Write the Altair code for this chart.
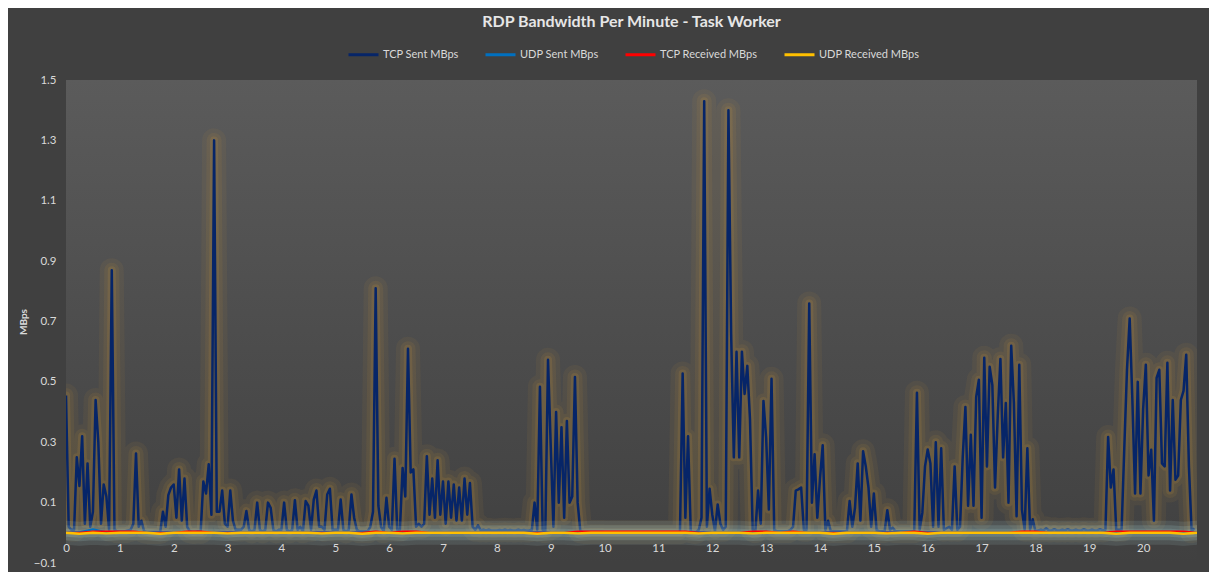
import altair as alt
import pandas as pd

# -----------------------------
# DATA
# -----------------------------
SERIES = ["TCP Sent MBps", "UDP Sent MBps", "TCP Received MBps", "UDP Received MBps"]
COLORS = ["#062568", "#0070C0", "#FF0000", "#FFC000"]
X_TICKS = list(range(0, 21))
Y_TICKS = [-0.1, 0.1, 0.3, 0.5, 0.7, 0.9, 1.1, 1.3, 1.5]

# TCP sent, one value every 0.05 minute (20 per minute)
tcp_sent = [
    0.455, 0.02, 0.01, 0.01, 0.25, 0.155, 0.32, 0.03, 0.23, 0.02, 0.07, 0.44, 0.30, 0.03, 0.16, 0.12, 0.01, 0.87, 0.01, 0.005,  # 0
    0.005, 0.005, 0.005, 0.008, 0.01, 0.03, 0.263, 0.02, 0.04, 0.005, 0.003, 0.003, 0.003, 0.003, 0.003, 0.003, 0.07, 0.02, 0.125, 0.15,  # 1
    0.16, 0.05, 0.21, 0.04, 0.18, 0.02, 0.005, 0.003, 0.003, 0.005, 0.003, 0.17, 0.13, 0.227, 0.06, 1.30, 0.07, 0.07, 0.14, 0.03,  # 2
    0.02, 0.14, 0.04, 0.01, 0.01, 0.01, 0.02, 0.072, 0.01, 0.005, 0.01, 0.10, 0.01, 0.005, 0.01, 0.10, 0.083, 0.01, 0.005, 0.01,  # 3
    0.01, 0.10, 0.01, 0.005, 0.01, 0.108, 0.01, 0.02, 0.005, 0.105, 0.09, 0.01, 0.11, 0.14, 0.02, 0.02, 0.01, 0.127, 0.146, 0.01,  # 4
    0.01, 0.01, 0.11, 0.01, 0.005, 0.01, 0.127, 0.05, 0.01, 0.005, 0.005, 0.005, 0.005, 0.02, 0.07, 0.81, 0.09, 0.02, 0.005, 0.116,  # 5
    0.02, 0.01, 0.245, 0.01, 0.01, 0.215, 0.12, 0.61, 0.20, 0.21, 0.02, 0.03, 0.02, 0.03, 0.254, 0.06, 0.18, 0.05, 0.24, 0.06,  # 6
    0.17, 0.03, 0.17, 0.05, 0.16, 0.04, 0.15, 0.04, 0.18, 0.06, 0.165, 0.02, 0.01, 0.025, 0.008, 0.01, 0.008, 0.01, 0.008, 0.008,  # 7
    0.008, 0.009, 0.008, 0.01, 0.008, 0.009, 0.008, 0.008, 0.01, 0.008, 0.009, 0.008, 0.008, 0.01, 0.10, 0.01, 0.484, 0.01, 0.005, 0.573,  # 8
    0.29, 0.02, 0.40, 0.10, 0.35, 0.05, 0.37, 0.10, 0.12, 0.516, 0.10, 0.005, 0.003, 0.003, 0.003, 0.003, 0.003, 0.003, 0.003, 0.003,  # 9
    0.002, 0.002, 0.002, 0.002, 0.002, 0.002, 0.002, 0.002, 0.002, 0.002, 0.002, 0.002, 0.002, 0.002, 0.002, 0.002, 0.002, 0.002, 0.002, 0.002,  # 10
    0.002, 0.002, 0.002, 0.002, 0.002, 0.002, 0.002, 0.002, 0.002, 0.528, 0.05, 0.32, 0.005, 0.003, 0.003, 0.01, 0.05, 1.43, 0.02, 0.146,  # 11
    0.06, 0.005, 0.094, 0.03, 0.01, 0.02, 1.40, 0.66, 0.25, 0.60, 0.25, 0.60, 0.46, 0.553, 0.376, 0.01, 0.005, 0.14, 0.03, 0.437,  # 12
    0.315, 0.077, 0.51, 0.01, 0.005, 0.005, 0.005, 0.005, 0.005, 0.01, 0.02, 0.14, 0.144, 0.15, 0.01, 0.01, 0.76, 0.10, 0.26, 0.05,  # 13
    0.18, 0.29, 0.01, 0.04, 0.005, 0.005, 0.005, 0.005, 0.005, 0.005, 0.005, 0.105, 0.02, 0.083, 0.23, 0.04, 0.27, 0.22, 0.15, 0.02,  # 14
    0.13, 0.01, 0.005, 0.005, 0.005, 0.075, 0.01, 0.017, 0.005, 0.005, 0.005, 0.005, 0.005, 0.005, 0.005, 0.005, 0.464, 0.01, 0.066, 0.22,  # 15
    0.276, 0.23, 0.02, 0.30, 0.02, 0.28, 0.01, 0.015, 0.02, 0.01, 0.22, 0.01, 0.02, 0.25, 0.417, 0.09, 0.325, 0.09, 0.45, 0.507,  # 16
    0.05, 0.58, 0.22, 0.55, 0.49, 0.15, 0.386, 0.576, 0.25, 0.43, 0.10, 0.62, 0.43, 0.055, 0.557, 0.076, 0.01, 0.28, 0.01, 0.045,  # 17
    0.005, 0.008, 0.01, 0.008, 0.015, 0.008, 0.008, 0.012, 0.008, 0.008, 0.01, 0.008, 0.012, 0.008, 0.008, 0.01, 0.008, 0.008, 0.012, 0.008,  # 18
    0.008, 0.01, 0.008, 0.008, 0.012, 0.008, 0.01, 0.317, 0.15, 0.21, 0.01, 0.01, 0.01, 0.28, 0.54, 0.71, 0.44, 0.13, 0.50, 0.13,  # 19
    0.41, 0.557, 0.19, 0.275, 0.04, 0.513, 0.54, 0.23, 0.22, 0.563, 0.14, 0.44, 0.176, 0.19, 0.44, 0.47, 0.59, 0.22, 0.005, 0.015,  # 20
]

# the three near-zero series, one value every 0.25 minute
udp_sent = [
    0.002, 0.002, 0.012, 0.002, 0.002, 0.002, 0.002, 0.002, 0.002, 0.002,
    0.002, 0.002, 0.002, 0.002, 0.002, 0.002, 0.002, 0.002, 0.002, 0.002,
    0.002, 0.002, 0.002, 0.002, 0.002, 0.002, 0.002, 0.002, 0.002, 0.002,
    0.002, 0.002, 0.002, 0.002, 0.002, 0.002, 0.002, 0.002, 0.002, 0.002,
    0.002, 0.002, 0.002, 0.002, 0.002, 0.002, 0.002, 0.002, 0.002, 0.002,
    0.002, 0.002, 0.002, 0.002, 0.002, 0.002, 0.002, 0.002, 0.002, 0.002,
    0.002, 0.002, 0.002, 0.002, 0.002, 0.002, 0.002, 0.002, 0.002, 0.002,
    0.002, 0.002, 0.002, 0.002, 0.002, 0.002, 0.002, 0.002, 0.002, 0.002,
    0.002, 0.002, 0.002, 0.002, 0.002,
]
tcp_received = [
    0.001, 0.001, 0.005, 0.005, 0.005, 0.005, 0.001, 0.001, 0.001, 0.005,
    0.005, 0.001, 0.001, 0.001, 0.001, 0.001, 0.001, 0.001, 0.001, 0.001,
    0.001, 0.001, 0.001, 0.005, 0.001, 0.005, 0.005, 0.001, 0.001, 0.001,
    0.001, 0.001, 0.001, 0.001, 0.001, 0.001, 0.001, 0.001, 0.005, 0.005,
    0.005, 0.005, 0.005, 0.005, 0.005, 0.005, 0.005, 0.001, 0.001, 0.001,
    0.001, 0.005, 0.005, 0.001, 0.005, 0.001, 0.001, 0.001, 0.001, 0.001,
    0.001, 0.001, 0.001, 0.005, 0.001, 0.001, 0.001, 0.001, 0.001, 0.001,
    0.001, 0.005, 0.005, 0.001, 0.001, 0.001, 0.001, 0.001, 0.005, 0.005,
    0.005, 0.005, 0.005, 0.005, 0.001,
]
udp_received = [
    0.0, -0.003, 0.0, -0.002, 0.0, 0.0, 0.0, -0.003, 0.0, 0.0,
    0.0, 0.0, -0.002, 0.0, 0.0, 0.0, 0.0, 0.0, 0.0, -0.002,
    0.0, 0.0, -0.003, 0.0, 0.0, -0.002, 0.0, 0.0, 0.0, 0.0,
    0.0, 0.0, 0.0, 0.0, 0.0, -0.003, 0.0, 0.0, -0.002, 0.0,
    0.0, 0.0, 0.0, 0.0, 0.0, 0.0, 0.0, -0.002, 0.0, 0.0,
    0.0, -0.002, 0.0, 0.0, 0.0, 0.0, 0.0, -0.003, 0.0, 0.0,
    0.0, -0.002, 0.0, 0.0, -0.003, 0.0, 0.0, 0.0, 0.0, 0.0,
    0.0, 0.0, 0.0, 0.0, 0.0, 0.0, 0.0, 0.0, -0.003, 0.0,
    0.0, 0.0, 0.0, -0.003, 0.0,
]


def series_frame(values, step, name):
    return pd.DataFrame({
        "Minute": [i * step for i in range(len(values))],
        "MBps": values,
        "Series": name,
    })


tcp_df = series_frame(tcp_sent, 0.05, SERIES[0])
udp_sent_df = series_frame(udp_sent, 0.25, SERIES[1])
tcp_recv_df = series_frame(tcp_received, 0.25, SERIES[2])
udp_recv_df = series_frame(udp_received, 0.25, SERIES[3])

W, H = 1131, 483
LABEL = "#d9d9d9"
FONT = "Lato"

x_enc = alt.X(
    "Minute:Q",
    scale=alt.Scale(domain=[0, 21], nice=False, zero=False),
    axis=alt.Axis(values=X_TICKS, title=None, domain=False, ticks=False, grid=False,
                  labelColor=LABEL, labelFont=FONT, labelFontSize=11.5, labelPadding=9,
                  labelAngle=0, labelFlush=False, offset=-30, zindex=1),
)
y_enc = alt.Y(
    "MBps:Q",
    scale=alt.Scale(domain=[-0.1, 1.5], nice=False, zero=False),
    axis=alt.Axis(values=Y_TICKS, format=".1f", title="MBps", domain=False, ticks=False,
                  grid=False, labelColor=LABEL, labelFont=FONT, labelFontSize=11.5,
                  labelPadding=10, titleColor=LABEL, titleFont=FONT, titleFontSize=10,
                  titleFontWeight="bold", titlePadding=5, zindex=1),
)
color_enc = alt.Color(
    "Series:N",
    scale=alt.Scale(domain=SERIES, range=COLORS),
    legend=alt.Legend(title=None, orient="none", legendX=281, legendY=-42,
                      direction="horizontal", symbolType="stroke", symbolSize=900,
                      symbolStrokeWidth=3, labelColor=LABEL, labelFont=FONT,
                      labelFontSize=11, labelOffset=3, columnPadding=20),
)

# plot-area gradient
backdrop = alt.Chart(pd.DataFrame({"a": [0]})).mark_rect(
    color=alt.Gradient(
        gradient="linear",
        stops=[alt.GradientStop(color="#5b5b5b", offset=0),
               alt.GradientStop(color="#404040", offset=1)],
        x1=0, x2=0, y1=0, y2=1,
    )
).encode(x=alt.value(0), x2=alt.value(W), y=alt.value(0), y2=alt.value(H))


def glow(df, color, width, opacity):
    return alt.Chart(df).mark_line(
        color=color, strokeWidth=width, opacity=opacity, strokeJoin="round",
        strokeCap="round", clip=True
    ).encode(x=x_enc, y=y_enc)


def line(df, width):
    return alt.Chart(df).mark_line(strokeWidth=width, strokeJoin="round", clip=True).encode(
        x=x_enc, y=y_enc, color=color_enc
    )


chart = alt.layer(
    backdrop,
    glow(tcp_df, "#d89c3c", 24, 0.07),
    glow(tcp_df, "#d89c3c", 15, 0.09),
    glow(tcp_df, "#d89c3c", 8, 0.14),
    line(tcp_df, 2.5),
    glow(udp_recv_df, "#a8d0d0", 24, 0.14),
    glow(udp_recv_df, "#a8d0d0", 15, 0.18),
    glow(udp_recv_df, "#a8d0d0", 8, 0.18),
    line(udp_sent_df, 2),
    line(tcp_recv_df, 1.6),
    line(udp_recv_df, 2.4),
).properties(
    width=W,
    height=H,
    padding={"left": 58, "top": 72, "right": 12, "bottom": 9},
    autosize=alt.AutoSizeParams(type="none"),
    background="#404040",
    title=alt.TitleParams(
        "RDP Bandwidth Per Minute - Task Worker",
        color="#e6e6e6", font=FONT, fontSize=16, fontWeight="bold",
        anchor="middle", offset=8,
    ),
).configure_view(stroke=None)

chart.save("out.html", embed_options={"renderer": "svg", "actions": False})
